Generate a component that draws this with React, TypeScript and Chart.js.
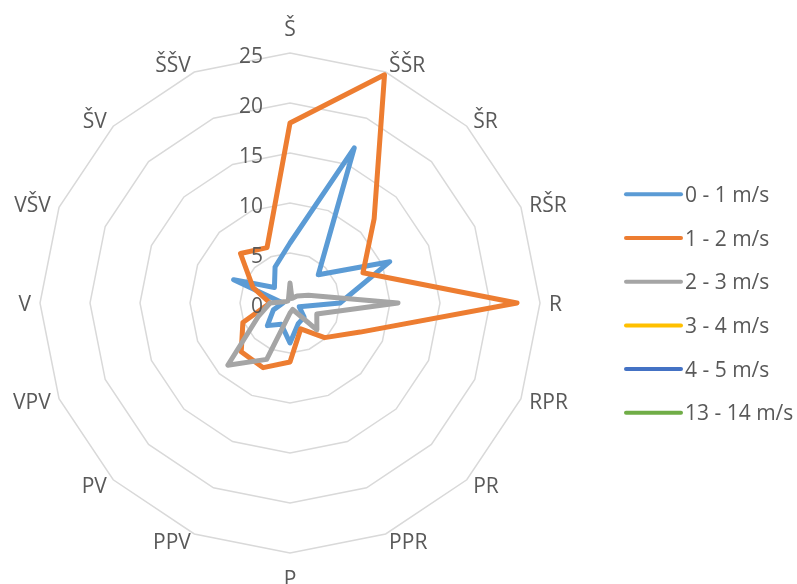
import React, { useEffect, useRef } from "react";
import { Chart, registerables } from "chart.js";

Chart.register(...registerables);

const directions = ["Š", "ŠŠR", "ŠR", "RŠR", "R", "RPR", "PR", "PPR", "P", "PPV", "PV", "VPV", "V", "VŠV", "ŠV", "ŠŠV"];

const seriesNames = ["0 - 1 m/s", "1 - 2 m/s", "2 - 3 m/s", "3 - 4 m/s", "4 - 5 m/s", "13 - 14 m/s"];
const seriesColors = ["#5B9BD5", "#ED7D31", "#A5A5A5", "#FFC000", "#4472C4", "#70AD47"];

const speed0to1 = [6.0, 16.8, 4.0, 10.8, 5.0, 1.0, 2.0, 2.2, 4.0, 2.3, 3.2, 1.8, 0.7, 6.1, 2.2, 3.9];
const speed1to2 = [18.0, 24.7, 11.9, 7.9, 22.7, 7.6, 4.9, 2.8, 5.9, 7.0, 6.9, 5.1, 2.0, 4.0, 7.0, 6.0];
const speed2to3 = [2.0, 0.5, 1.0, 2.0, 10.8, 2.9, 3.8, 0.7, 1.0, 6.1, 8.8, 3.4, 2.0, 0.4, 0.3, 0.4];
const speed3to4 = [0, 0, 0, 0, 0, 0, 0, 0, 0, 0, 0, 0, 0, 0, 0, 0];
const speed4to5 = [0, 0, 0, 0, 0, 0, 0, 0, 0, 0, 0, 0, 0, 0, 0, 0];
const speed13to14 = [0, 0, 0, 0, 0, 0, 0, 0, 0, 0, 0, 0, 0, 0, 0, 0];

const tickValues = [0, 5, 10, 15, 20, 25];

const seriesData = [speed0to1, speed1to2, speed2to3, speed3to4, speed4to5, speed13to14];

const FONT = '21px "Open Sans"';
const TEXT_COLOR = "#595959";

const labelsPlugin = {
  id: "excelLabels",
  afterDraw(chart: any) {
    const ctx = chart.ctx;
    const scale = chart.scales.r;
    const n = directions.length;
    ctx.save();
    ctx.font = FONT;
    ctx.fillStyle = TEXT_COLOR;
    ctx.textBaseline = "alphabetic";

    // point labels
    for (let i = 0; i < n; i++) {
      const pos = scale.getPointPosition(i, scale.drawingArea);
      const ang = (i / n) * Math.PI * 2;
      const s = Math.sin(ang);
      const c = Math.cos(ang);
      let x = pos.x;
      if (Math.abs(s) < 0.01) {
        ctx.textAlign = "center";
      } else if (s > 0) {
        ctx.textAlign = "left";
        x = pos.x + 9 * s;
      } else {
        ctx.textAlign = "right";
        x = pos.x + 9 * s;
      }
      let capCenter = pos.y - c * 8;
      if (Math.abs(c) > 0.99) capCenter -= 17 * Math.sign(c);
      ctx.fillText(directions[i], x, capCenter + 7.5);
    }

    // tick labels
    ctx.textAlign = "right";
    for (const v of tickValues) {
      const d = scale.getDistanceFromCenterForValue(v);
      const y = scale.yCenter - d;
      ctx.fillText(String(v), scale.xCenter - 27, y + 2 + 7.5);
    }

    // legend
    const lx0 = 626;
    const lx1 = 681;
    const ly0 = 194.3;
    const step = 43.7;
    for (let k = 0; k < seriesNames.length; k++) {
      const y = ly0 + k * step;
      ctx.beginPath();
      ctx.strokeStyle = seriesColors[k];
      ctx.lineWidth = 4;
      ctx.lineCap = "round";
      ctx.moveTo(lx0, y);
      ctx.lineTo(lx1, y);
      ctx.stroke();
      ctx.textAlign = "left";
      ctx.fillStyle = TEXT_COLOR;
      ctx.fillText(seriesNames[k], 685, y + 7.5);
    }
    ctx.restore();
  },
};

export default function App() {
  const canvasRef = useRef<HTMLCanvasElement | null>(null);

  useEffect(() => {
    if (!canvasRef.current) return;
    const chart = new Chart(canvasRef.current, {
      type: "radar",
      data: {
        labels: directions,
        datasets: seriesData.map((d, k) => {
          const allZero = d.every((v) => v === 0);
          return {
            label: seriesNames[k],
            data: d,
            borderColor: seriesColors[k],
            backgroundColor: "transparent",
            borderWidth: allZero ? 0 : 5,
            borderJoinStyle: allZero ? "miter" : "round",
            borderCapStyle: allZero ? "butt" : "round",
            pointRadius: 0,
            pointHoverRadius: 0,
            fill: false,
            tension: 0,
            order: 10 - k,
          };
        }),
      },
      options: {
        animation: false,
        responsive: true,
        maintainAspectRatio: false,
        layout: { padding: { left: 40, top: 53, right: 257, bottom: 31 } },
        plugins: {
          legend: { display: false },
          tooltip: { enabled: false },
        },
        scales: {
          r: {
            min: 0,
            max: 25,
            ticks: { stepSize: 5, display: false },
            grid: { color: "#D9D9D9", lineWidth: 1.5, circular: false },
            angleLines: { display: false },
            pointLabels: { display: false },
          },
        },
      } as any,
      plugins: [labelsPlugin],
    });
    return () => chart.destroy();
  }, []);

  return (
    <div style={{ position: "absolute", left: 0, top: 0, width: 797, height: 584, background: "#ffffff" }}>
      <canvas ref={canvasRef} />
    </div>
  );
}
